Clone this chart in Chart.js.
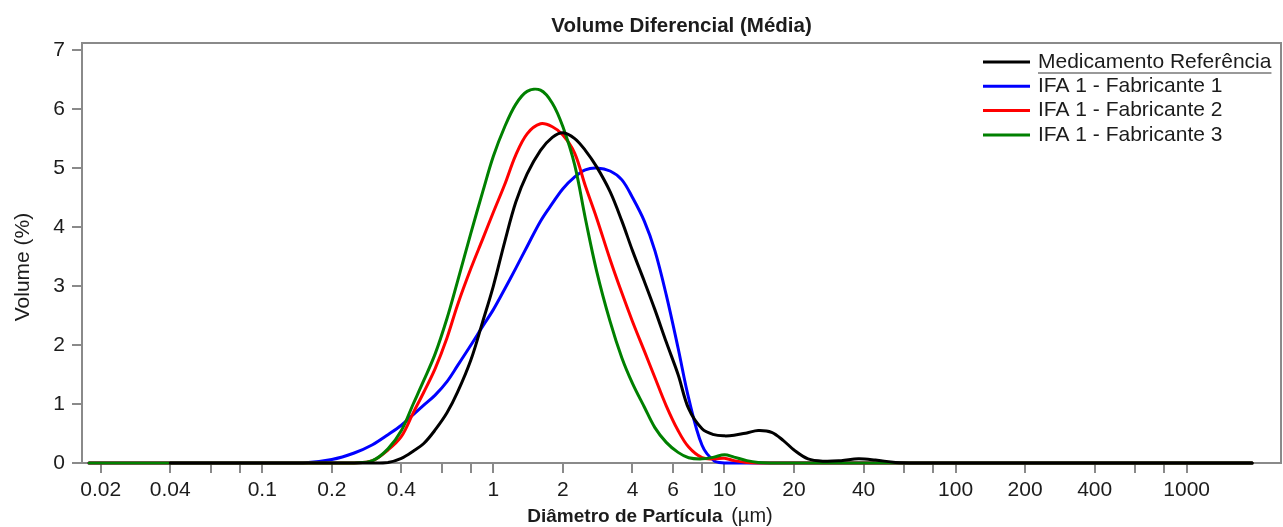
<!DOCTYPE html>
<html>
<head>
<meta charset="utf-8">
<script src="https://cdn.jsdelivr.net/npm/chart.js@4/dist/chart.umd.min.js"></script>
<style>
  html, body { margin: 0; padding: 0; background: #fff; }
  #wrap { width: 1283px; height: 527px; }
</style>
</head>
<body>
<div id="wrap"><canvas id="chart"></canvas></div>
<script>
// Diâmetro de partícula (µm) e volume (%) de cada amostra
var sizes = [0.0178, 0.04, 0.1, 0.15, 0.2, 0.25, 0.3, 0.35, 0.4, 0.45, 0.5, 0.56, 0.63, 0.7, 0.8, 0.9,
  1.0, 1.12, 1.25, 1.4, 1.6, 1.8, 2.0, 2.25, 2.5, 2.8, 3.2, 3.6, 4.0, 4.5, 5.0, 5.6, 6.3, 7.0, 8.0, 9.0,
  10, 11, 12.5, 14, 16, 18, 20, 23, 27, 32, 38, 45, 55, 70, 100, 200, 1920];

var referencia = [null, 0, 0, 0, 0, 0, 0, 0.01, 0.08, 0.2, 0.33, 0.56, 0.85, 1.2, 1.75, 2.4,
  3.0, 3.75, 4.42, 4.9, 5.3, 5.52, 5.6, 5.5, 5.3, 5.02, 4.6, 4.1, 3.6, 3.08, 2.6, 2.05, 1.5, 0.92, 0.58, 0.48,
  0.46, 0.47, 0.51, 0.55, 0.52, 0.38, 0.22, 0.07, 0.03, 0.04, 0.07, 0.05, 0.01, 0, 0, 0, 0];

var fabricante1 = [0, 0, 0, 0, 0.06, 0.17, 0.31, 0.48, 0.64, 0.82, 0.98, 1.15, 1.38, 1.65, 2.0, 2.32,
  2.6, 2.95, 3.3, 3.67, 4.1, 4.4, 4.65, 4.85, 4.97, 5.0, 4.95, 4.8, 4.5, 4.1, 3.6, 2.85, 1.95, 1.1, 0.3, 0.04,
  0, 0, 0, 0, 0, 0, 0, 0, 0, 0, 0, 0, 0, 0, 0, 0, 0];

var fabricante2 = [0, 0, 0, 0, 0, 0, 0.04, 0.22, 0.45, 0.85, 1.2, 1.6, 2.12, 2.68, 3.3, 3.8,
  4.25, 4.72, 5.22, 5.58, 5.75, 5.7, 5.56, 5.25, 4.7, 4.15, 3.45, 2.88, 2.4, 1.9, 1.45, 0.97, 0.55, 0.27, 0.09, 0.07,
  0.08, 0.04, 0.01, 0, 0, 0, 0, 0, 0, 0, 0, 0, 0, 0, 0, 0, 0];

var fabricante3 = [0, 0, 0, 0, 0, 0, 0.04, 0.24, 0.55, 1.0, 1.4, 1.85, 2.45, 3.08, 3.9, 4.6,
  5.2, 5.7, 6.08, 6.3, 6.32, 6.1, 5.7, 5.05, 4.15, 3.25, 2.4, 1.78, 1.35, 0.95, 0.6, 0.35, 0.18, 0.09, 0.07, 0.1,
  0.14, 0.1, 0.04, 0.01, 0, 0, 0, 0, 0, 0, 0, 0, 0, 0, 0, 0, 0];

var seriesNames = ['Medicamento Referência', 'IFA 1 - Fabricante 1', 'IFA 1 - Fabricante 2', 'IFA 1 - Fabricante 3'];
var seriesColors = ['#000000', '#0000ff', '#ff0000', '#008000'];

var xTicks = [0.02, 0.04, 0.06, 0.08, 0.1, 0.2, 0.4, 0.6, 0.8, 1, 2, 4, 6, 8, 10, 20, 40, 60, 80, 100, 200, 400, 600, 800, 1000];
var xTickLabels = ['0.02', '0.04', '', '', '0.1', '0.2', '0.4', '', '', '1', '2', '4', '6', '', '10', '20', '40', '', '', '100', '200', '400', '', '', '1000'];
var yTicks = [0, 1, 2, 3, 4, 5, 6, 7];

var FONT = "'Liberation Sans', Arial, sans-serif";
var TEXT = '#1c1c1c';
var AXIS = '#8a8a8a';

function points(values) {
  var out = [];
  for (var i = 0; i < sizes.length; i++) {
    if (values[i] !== null) out.push({ x: sizes[i], y: values[i] });
  }
  return out;
}

var allSeries = [referencia, fabricante1, fabricante2, fabricante3];
var drawOrder = [0, 3, 2, 1]; // black on top, then green, red, blue
var datasets = allSeries.map(function (s, i) {
  return {
    label: seriesNames[i],
    data: points(s),
    borderColor: seriesColors[i],
    backgroundColor: seriesColors[i],
    borderWidth: 3,
    pointRadius: 0,
    fill: false,
    tension: 0.35,
    borderJoinStyle: 'round',
    borderCapStyle: 'round',
    clip: false,
    order: drawOrder[i]
  };
});

var decor = {
  id: 'decor',
  beforeDatasetsDraw: function (chart) {
    var a = chart.chartArea, ctx = chart.ctx;
    ctx.save();
    ctx.strokeStyle = AXIS;
    ctx.lineWidth = 2;
    ctx.strokeRect(a.left, a.top, a.right - a.left, a.bottom - a.top);
    ctx.restore();
  },
  afterDraw: function (chart) {
    var a = chart.chartArea, ctx = chart.ctx;
    ctx.save();
    // legend
    var lineX0 = a.right - 298, lineX1 = a.right - 251, textX = a.right - 243;
    ctx.font = '21px ' + FONT;
    ctx.textBaseline = 'middle';
    ctx.textAlign = 'left';
    chart.data.datasets.forEach(function (ds, i) {
      var y = a.top + 19 + i * 24.3;
      ctx.strokeStyle = ds.borderColor;
      ctx.lineWidth = 3;
      ctx.beginPath();
      ctx.moveTo(lineX0, y);
      ctx.lineTo(lineX1, y);
      ctx.stroke();
      ctx.fillStyle = TEXT;
      ctx.fillText(ds.label, textX, y);
      if (i === 0) {
        var w = ctx.measureText(ds.label).width;
        ctx.strokeStyle = '#777';
        ctx.lineWidth = 1.5;
        ctx.beginPath();
        ctx.moveTo(textX, y + 11);
        ctx.lineTo(textX + w, y + 11);
        ctx.stroke();
      }
    });
    // y title
    ctx.save();
    ctx.translate(23, 267);
    ctx.rotate(-Math.PI / 2);
    ctx.textAlign = 'center';
    ctx.textBaseline = 'middle';
    ctx.fillStyle = TEXT;
    ctx.font = '21px ' + FONT;
    ctx.fillText('Volume (%)', 0, 0);
    ctx.restore();
    // x title
    var part1 = 'Diâmetro de Partícula', part2 = ' (µm)';
    ctx.font = 'bold 19px ' + FONT;
    var w1 = ctx.measureText(part1).width;
    ctx.font = '20px ' + FONT;
    var w2 = ctx.measureText(part2).width;
    var x0 = (a.left + a.right) / 2 - 33 - (w1 + w2) / 2;
    ctx.textBaseline = 'alphabetic';
    ctx.textAlign = 'left';
    ctx.fillStyle = TEXT;
    ctx.font = 'bold 19px ' + FONT;
    ctx.fillText(part1, x0, 522);
    ctx.font = '20px ' + FONT;
    ctx.fillText(part2, x0 + w1 + 3, 522);
    ctx.restore();
  }
};

new Chart(document.getElementById('chart'), {
  type: 'line',
  data: { datasets: datasets },
  plugins: [decor],
  options: {
    responsive: true,
    maintainAspectRatio: false,
    animation: false,
    layout: { padding: { left: 0, right: 2, top: 0, bottom: 0 } },
    plugins: {
      legend: { display: false },
      tooltip: { enabled: false },
      title: {
        display: true,
        text: 'Volume Diferencial (Média)',
        fullSize: false,
        color: TEXT,
        font: { family: FONT, size: 20.5, weight: 'bold' },
        padding: { top: 13.7, bottom: 4.7 }
      }
    },
    scales: {
      x: {
        type: 'logarithmic',
        min: 0.0166,
        max: 2560,
        afterFit: function (scale) { scale.height = 64; },
        afterBuildTicks: function (scale) {
          scale.ticks = xTicks.map(function (v) { return { value: v }; });
        },
        ticks: {
          autoSkip: false,
          maxRotation: 0,
          padding: 5,
          color: TEXT,
          font: { family: FONT, size: 21 },
          callback: function (value) {
            var k = xTicks.indexOf(value);
            return k >= 0 ? xTickLabels[k] : '';
          }
        },
        grid: { drawOnChartArea: false, drawTicks: true, tickLength: 10, color: AXIS, lineWidth: 2 },
        border: { display: false }
      },
      y: {
        min: 0,
        max: 7.12,
        afterFit: function (scale) { scale.width = 82; },
        afterBuildTicks: function (scale) {
          scale.ticks = yTicks.map(function (v) { return { value: v }; });
        },
        ticks: {
          padding: 7,
          color: TEXT,
          font: { family: FONT, size: 21 }
        },
        grid: { drawOnChartArea: false, drawTicks: true, tickLength: 10, color: AXIS, lineWidth: 2 },
        border: { display: false }
      }
    }
  }
});
</script>
</body>
</html>
